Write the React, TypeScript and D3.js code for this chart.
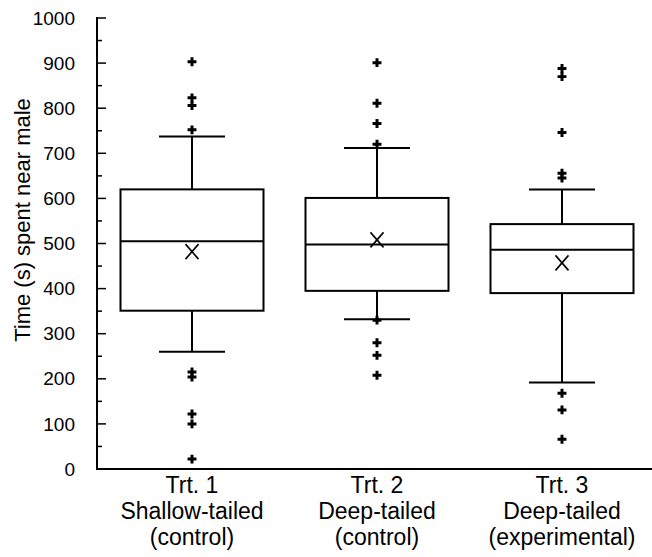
import React from "react";
import * as d3 from "d3";

// treatment groups and their x-axis label lines
const groups = ["Trt. 1", "Trt. 2", "Trt. 3"];
const tailType = ["Shallow-tailed", "Deep-tailed", "Deep-tailed"];
const groupRole = ["(control)", "(control)", "(experimental)"];

// box statistics (seconds)
const lowerWhisker = [260, 332, 192];
const q1 = [351, 395, 390];
const medians = [505, 498, 486];
const q3 = [620, 601, 543];
const upperWhisker = [737, 712, 620];
const means = [482, 508, 457];

// individual outliers per group
const outliers1 = [903, 823, 806, 752, 215, 204, 122, 100, 22];
const outliers2 = [901, 811, 766, 720, 330, 280, 252, 208];
const outliers3 = [888, 870, 746, 656, 645, 168, 131, 66];

const yTicks = [0, 100, 200, 300, 400, 500, 600, 700, 800, 900, 1000];

const width = 652;
const height = 557;
const margin = { top: 18, right: 0, bottom: 88, left: 97 };
const font = "Liberation Sans, Arial, Helvetica, sans-serif";

const App = () => {
  const y = d3
    .scaleLinear()
    .domain([0, 1000])
    .range([height - margin.bottom, margin.top]);

  const x = d3
    .scalePoint()
    .domain(groups)
    .range([margin.left + 2.5, width + 2.5])
    .padding(0.5);

  const boxHalf = 71.5;
  const capHalf = 33;
  const minorTicks = d3.range(50, 1000, 100);
  const plus = d3.symbol(d3.symbolCross).size(44)();
  const allOutliers = [outliers1, outliers2, outliers3];

  return (
    <svg
      width={width}
      height={height}
      style={{ position: "absolute", left: 0, top: 0, background: "#fff" }}
    >
      {/* y axis */}
      <line
        x1={margin.left}
        x2={margin.left}
        y1={y(1000) - 1}
        y2={y(0)}
        stroke="#000"
        strokeWidth={2}
      />
      {yTicks.map((t) => (
        <g key={t}>
          <line
            x1={margin.left}
            x2={margin.left + 9}
            y1={y(t)}
            y2={y(t)}
            stroke="#000"
            strokeWidth={1.5}
          />
          <text
            x={75}
            y={y(t)}
            dy="0.35em"
            textAnchor="end"
            fontFamily={font}
            fontSize={19}
          >
            {t}
          </text>
        </g>
      ))}
      {minorTicks.map((t) => (
        <line
          key={t}
          x1={margin.left}
          x2={margin.left + 5}
          y1={y(t)}
          y2={y(t)}
          stroke="#000"
          strokeWidth={1.5}
        />
      ))}
      <text
        transform={`translate(30,220) rotate(-90)`}
        textAnchor="middle"
        fontFamily={font}
        fontSize={22}
      >
        Time (s) spent near male
      </text>

      {/* x axis */}
      <line
        x1={margin.left - 1}
        x2={width}
        y1={y(0)}
        y2={y(0)}
        stroke="#000"
        strokeWidth={2}
      />

      {groups.map((g, i) => {
        const cx = x(g);
        return (
          <g key={g} stroke="#000" fill="none">
            {/* whiskers */}
            <line x1={cx} x2={cx} y1={y(upperWhisker[i])} y2={y(q3[i])} strokeWidth={2} />
            <line x1={cx} x2={cx} y1={y(q1[i])} y2={y(lowerWhisker[i])} strokeWidth={2} />
            <line
              x1={cx - capHalf}
              x2={cx + capHalf}
              y1={y(upperWhisker[i])}
              y2={y(upperWhisker[i])}
              strokeWidth={2}
            />
            <line
              x1={cx - capHalf}
              x2={cx + capHalf}
              y1={y(lowerWhisker[i])}
              y2={y(lowerWhisker[i])}
              strokeWidth={2}
            />
            {/* box */}
            <rect
              x={cx - boxHalf}
              y={y(q3[i])}
              width={boxHalf * 2}
              height={y(q1[i]) - y(q3[i])}
              strokeWidth={2}
            />
            <line
              x1={cx - boxHalf}
              x2={cx + boxHalf}
              y1={y(medians[i])}
              y2={y(medians[i])}
              strokeWidth={2}
            />
            {/* mean */}
            <path
              d={`M${cx - 6.5},${y(means[i]) - 7.5}L${cx + 6.5},${y(means[i]) + 7.5}M${cx + 6.5},${y(means[i]) - 7.5}L${cx - 6.5},${y(means[i]) + 7.5}`}
              strokeWidth={1.6}
            />
            {/* outliers */}
            {allOutliers[i].map((v, j) => (
              <path
                key={j}
                d={plus}
                transform={`translate(${cx},${y(v)})`}
                fill="#000"
                stroke="none"
              />
            ))}
            {/* category labels */}
            <g fontFamily={font} fontSize={23} fill="#000" stroke="none" textAnchor="middle">
              <text x={cx} y={493}>{g}</text>
              <text x={cx} y={519}>{tailType[i]}</text>
              <text x={cx} y={545}>{groupRole[i]}</text>
            </g>
          </g>
        );
      })}
    </svg>
  );
};

export default App;
